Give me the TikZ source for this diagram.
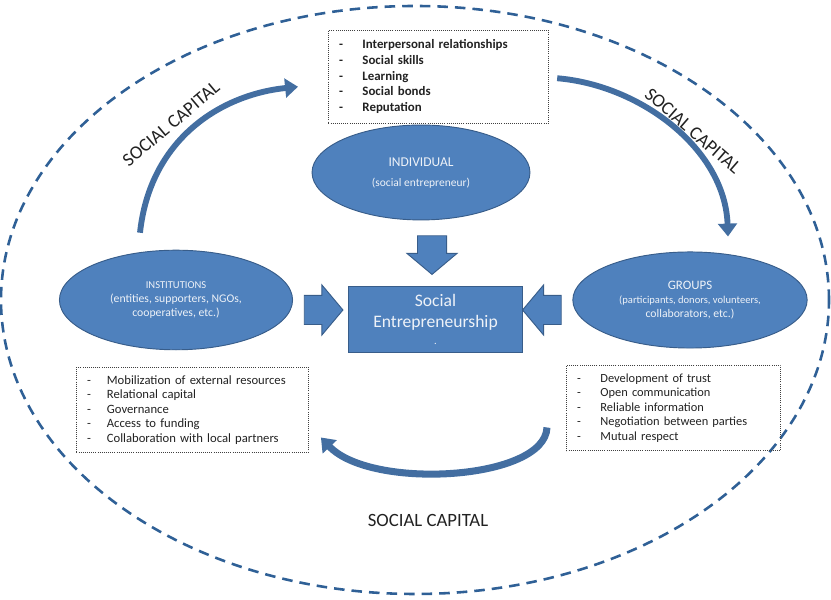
\documentclass[tikz,border=0pt]{standalone}
\usepackage{fontspec}
\setmainfont{Carlito}
\usetikzlibrary{arrows.meta,shapes.geometric,shapes.arrows}
\definecolor{Steel}{HTML}{4F81BD}
\definecolor{SteelDark}{HTML}{385D8A}
\definecolor{Rim}{HTML}{2F6096}
\definecolor{Pale}{HTML}{EEF2F8}
\definecolor{Ink}{HTML}{222222}
\newcommand\itemdash[1][20pt]{\makebox[#1][l]{-}}

\begin{document}
\begin{tikzpicture}[x=0.03cm,y=0.03cm,
  blob/.style={ellipse,draw=SteelDark,fill=Steel,thick,text=Pale,align=center,inner sep=0pt},
  core/.style={rectangle,draw=SteelDark,fill=Steel,thick,text=Pale,align=center},
  push/.style={single arrow,draw=SteelDark,fill=Steel,thick,text height=0pt,text depth=0pt,
    inner xsep=0pt,inner ysep=12pt,single arrow head extend=9pt,single arrow tip angle=100,
    minimum height=33pt},
  list/.style={draw=black!75,densely dotted,line width=.8pt,align=left,anchor=north west,
    inner xsep=9pt,inner ysep=0pt,text=Ink},
  flow/.style={-{Triangle[width=16pt,length=11pt]},line width=5pt,draw=Steel!85!black},
  captext/.style={text=Ink,font=\fontsize{16}{18}\selectfont}]
\useasboundingbox (0,0) rectangle (831,600);
% outer frame
\draw[Rim,line width=2.2pt,dash pattern=on 9pt off 6pt] (415,300) ellipse [x radius=414,y radius=294];
% actors
\node[blob,minimum width=186pt,minimum height=81pt](indiv) at (421,427.5)
  {\\[-4pt]{\fontsize{11.5}{13}\selectfont INDIVIDUAL}\\[5pt]{\fontsize{9.8}{11}\selectfont (social entrepreneur)}};
\node[blob,minimum width=199pt,minimum height=85pt](inst) at (176,300)
  {\fontsize{9}{13}\selectfont INSTITUTIONS\\(entities, supporters, NGOs,\\cooperatives, etc.)};
\node[blob,minimum width=200pt,minimum height=82pt](groups) at (690,300)
  {{\fontsize{11}{13}\selectfont GROUPS}\\\fontsize{9}{13}\selectfont (participants, donors, volunteers,\\collaborators, etc.)};
\node[core,minimum width=149pt,minimum height=57pt,font=\fontsize{15}{18.5}\selectfont](se) at (435.5,280.5)
  {Social\\Entrepreneurship\\[-4pt]{\fontsize{9}{9}\selectfont .}};
% block arrows into the centre
\node[push,rotate=-90](down) at (432,351){};
\node[push](toright) at (317.5,290){};
\node[push,rotate=180](toleft) at (548,290){};
% resource lists
\node[list,text width=170pt,minimum height=79pt,font=\bfseries\fontsize{11}{13.4}\selectfont](traits) at (328,570)
  {\itemdash Interpersonal relationships\\\itemdash Social skills\\\itemdash Learning\\\itemdash Social bonds\\\itemdash Reputation};
\node[list,text width=180pt,minimum height=72.6pt,font=\fontsize{10.8}{12.4}\selectfont](means) at (76,233)
  {\itemdash[17pt]Mobilization of external resources\\\itemdash[17pt]Relational capital\\\itemdash[17pt]Governance\\\itemdash[17pt]Access to funding\\\itemdash[17pt]Collaboration with local partners};
\node[list,text width=165pt,minimum height=72.6pt,font=\fontsize{10.6}{12.4}\selectfont](trust) at (566,235)
  {\itemdash Development of trust\\\itemdash Open communication\\\itemdash Reliable information\\\itemdash Negotiation between parties\\\itemdash Mutual respect};
% social capital cycle
\draw[flow] ([shift={(-36,17)}]inst.north) .. controls +(10,93) and +(-78,-8) .. ([shift={(-30,-10)}]traits.west);
\draw[flow] ([shift={(8,-1.5)}]traits.east) .. controls +(84,-7) and +(-3,87) .. ([shift={(38,15)}]groups.north);
\draw[flow,line width=6pt] ([shift={(-19,-19.5)}]trust.west) .. controls +(-2,-53) and +(50,-53) .. ([shift={(12,-27.5)}]means.east);
\node[captext,rotate=40](captl) at (171,476){SOCIAL CAPITAL};
\node[captext,rotate=-41](captr) at (693,469){SOCIAL CAPITAL};
\node[captext](capbot) at (428,80){SOCIAL CAPITAL};
\end{tikzpicture}
\end{document}
